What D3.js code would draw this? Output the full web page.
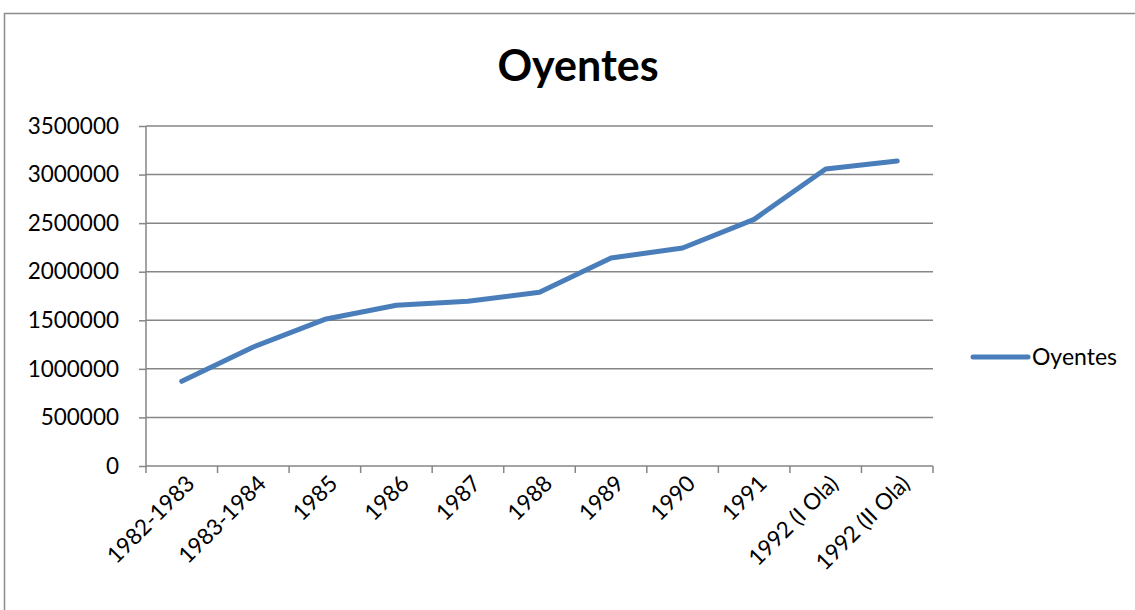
<!DOCTYPE html>
<meta charset="utf-8">
<body style="margin:0;background:#fff">
<div id="chart"></div>
<script src="https://d3js.org/d3.v7.min.js"></script>
<script>
  // data
  var categories = ["1982-1983", "1983-1984", "1985", "1986", "1987", "1988",
    "1989", "1990", "1991", "1992 (I Ola)", "1992 (II Ola)"];
  var oyentes = [872000, 1225000, 1510000, 1654000, 1695000, 1788000,
    2141000, 2244000, 2539000, 3058000, 3140000];
  var yTicks = [0, 500000, 1000000, 1500000, 2000000, 2500000, 3000000, 3500000];
  var seriesName = "Oyentes";

  var W = 1135, H = 610;
  var margin = {top: 126, right: 202, bottom: 144, left: 146},
    width = W - margin.left - margin.right,
    height = H - margin.top - margin.bottom;

  var font = "Lato, 'Open Sans', sans-serif";
  var blue = "#4a7ebb", gray = "#868686";

  var svg = d3.select("#chart").append("svg")
    .attr("width", W)
    .attr("height", H);

  // outer chart frame
  svg.append("rect")
    .attr("x", 4.5).attr("y", 13.5)
    .attr("width", 1200).attr("height", 700)
    .attr("fill", "none")
    .attr("stroke", "#8c8c8c")
    .attr("stroke-width", 1.5);

  // title
  svg.append("text")
    .attr("x", 578)
    .attr("y", 81)
    .attr("text-anchor", "middle")
    .style("font-family", font)
    .style("font-weight", "bold")
    .style("font-size", "43px")
    .text("Oyentes");

  var g = svg.append("g")
    .attr("transform", "translate(" + margin.left + "," + margin.top + ")");

  var x = d3.scaleBand()
    .domain(categories)
    .range([0, width]);

  var y = d3.scaleLinear()
    .domain([0, 3500000])
    .range([height, 0]);

  // gridlines
  g.selectAll(".grid")
    .data(yTicks.slice(1))
    .enter().append("line")
    .attr("x1", 0).attr("x2", width)
    .attr("y1", function(d) { return y(d); })
    .attr("y2", function(d) { return y(d); })
    .attr("stroke", gray)
    .attr("stroke-width", 1.5);

  // y axis
  var yAxis = g.append("g")
    .call(d3.axisLeft(y).tickValues(yTicks).tickSize(7).tickPadding(20)
      .tickFormat(d3.format("d")));
  yAxis.selectAll("line, path").attr("stroke", gray).attr("stroke-width", 1.5);
  yAxis.select(".domain").attr("d", "M0," + height + "V0");
  yAxis.selectAll("text")
    .style("font-family", font)
    .style("font-size", "22.5px")
    .attr("fill", "#000");

  // x axis: ticks on band edges
  var xAxis = g.append("g")
    .attr("transform", "translate(0," + height + ")");
  xAxis.append("line")
    .attr("x1", 0).attr("x2", width)
    .attr("stroke", gray).attr("stroke-width", 1.5);
  var edges = categories.map(function(c) { return x(c); }).concat([width]);
  xAxis.selectAll(".xt")
    .data(edges)
    .enter().append("line")
    .attr("x1", function(d) { return d; })
    .attr("x2", function(d) { return d; })
    .attr("y1", 0).attr("y2", 7)
    .attr("stroke", gray).attr("stroke-width", 1.5);

  xAxis.selectAll(".xl")
    .data(categories)
    .enter().append("text")
    .attr("transform", function(d) {
      return "translate(" + (x(d) + x.bandwidth() / 2 + 3) + ",8) rotate(-45)";
    })
    .attr("text-anchor", "end")
    .attr("dy", "0.7em")
    .style("font-family", font)
    .style("font-size", "22.5px")
    .text(function(d) { return d; });

  // line
  var line = d3.line()
    .x(function(d, i) { return x(categories[i]) + x.bandwidth() / 2; })
    .y(function(d) { return y(d); });

  g.append("path")
    .datum(oyentes)
    .attr("d", line)
    .attr("fill", "none")
    .attr("stroke", blue)
    .attr("stroke-width", 5)
    .attr("stroke-linecap", "round")
    .attr("stroke-linejoin", "round");

  // legend
  var lg = svg.append("g").attr("transform", "translate(973,357)");
  lg.append("line")
    .attr("x1", 0).attr("x2", 55)
    .attr("stroke", blue)
    .attr("stroke-width", 5)
    .attr("stroke-linecap", "round");
  lg.append("text")
    .attr("x", 59)
    .attr("y", 8)
    .style("font-family", font)
    .style("font-size", "23px")
    .text(seriesName);
</script>
